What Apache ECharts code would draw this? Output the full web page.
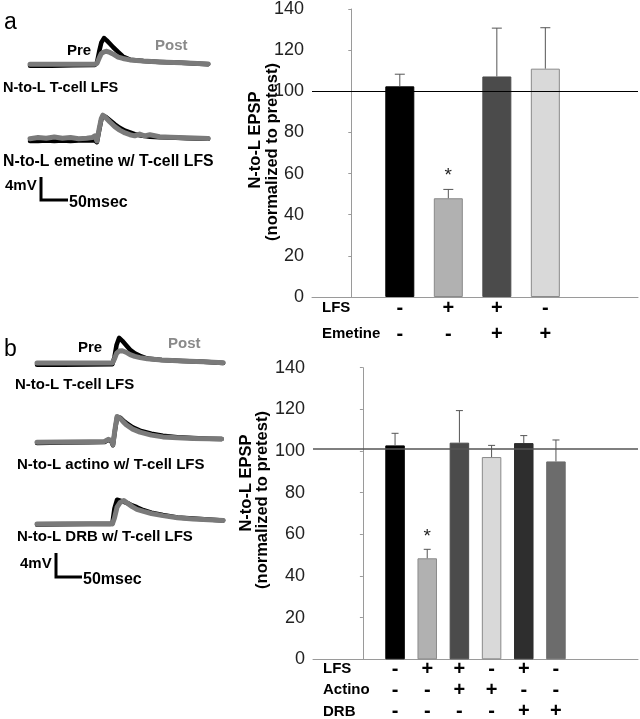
<!DOCTYPE html>
<html><head><meta charset="utf-8">
<script src="https://cdn.jsdelivr.net/npm/echarts@6/dist/echarts.min.js"></script>
<style>html,body{margin:0;padding:0;background:#fff}#c{width:640px;height:719px}</style>
</head><body><div id="c"></div>
<script>
// ---------- DATA ----------
// Panel a, trace 1 (N-to-L T-cell LFS): time (ms), voltage (mV, rel. baseline)
const a1Time = [0, 40, 80, 120, 124, 128, 132, 137, 142, 148, 154, 163, 172, 185, 210, 240, 280, 330];
const a1Pre  = [-0.2, -0.2, -0.15, -0.1, 0.3, 2.2, 3.8, 4.6, 4.2, 3.6, 3.0, 2.2, 1.4, 0.85, 0.6, 0.45, 0.3, 0.05];
const a1Post = [0.05, 0.05, 0.05, 0.05, 0.2, 1.1, 1.9, 2.2, 2.3, 2.1, 1.8, 1.3, 1.05, 0.8, 0.6, 0.45, 0.3, 0.1];
// Panel a, trace 2 (emetine)
const a2Time = [0, 15, 30, 45, 60, 75, 90, 105, 115, 120, 124, 128, 132, 135, 140, 148, 157, 166, 176, 185, 194, 203, 212, 222, 240, 260, 290, 330];
const a2Pre  = [-0.3, -0.3, -0.2, -0.3, -0.2, -0.3, -0.2, -0.2, -0.2, -0.2, -0.5, 1.5, 3.4, 4.1, 3.9, 3.3, 2.6, 2.0, 1.5, 1.2, 0.9, 0.7, 0.55, 0.45, 0.35, 0.3, 0.2, 0.1];
const a2Post = [0.1, 0.3, 0.2, 0.4, 0.2, 0.3, 0.1, 0.2, 0.3, 0.6, -0.3, 1.8, 3.6, 4.2, 3.8, 3.0, 2.2, 1.6, 1.1, 0.8, 0.6, 0.9, 0.6, 0.8, 0.45, 0.35, 0.25, 0.15];
// Panel b, trace 1 (T-cell LFS)
const b1Time = [0, 50, 100, 145, 149, 153, 158, 164, 171, 179, 188, 198, 212, 240, 280, 320, 358];
const b1Pre  = [-0.3, -0.3, -0.25, -0.2, 1.0, 3.0, 4.2, 3.7, 3.0, 2.2, 1.6, 1.2, 0.75, 0.5, 0.35, 0.2, 0.0];
const b1Post = [0, 0, 0, 0, 0.7, 1.6, 2.0, 2.05, 1.8, 1.4, 1.1, 0.9, 0.7, 0.5, 0.35, 0.2, 0.05];
// Panel b, trace 2 (actino)
const b2Time = [0, 50, 100, 130, 137, 143, 146, 150, 154, 160, 166, 172, 184, 198, 220, 242, 270, 300, 330, 355];
const b2Pre  = [-0.1, -0.05, 0, 0.05, 0.4, 0.2, -0.5, 2.0, 4.2, 4.1, 3.6, 3.2, 2.5, 1.95, 1.45, 1.1, 0.85, 0.7, 0.6, 0.55];
const b2Post = [0, 0.05, 0.1, 0.15, 0.5, 0.3, -0.4, 2.2, 4.3, 4.0, 3.4, 2.9, 2.2, 1.7, 1.2, 0.9, 0.75, 0.65, 0.6, 0.55];
// Panel b, trace 3 (DRB)
const b3Time = [0, 50, 100, 140, 145, 149, 154, 160, 167, 175, 183, 192, 205, 220, 242, 270, 300, 330, 358];
const b3Pre  = [-0.1, -0.05, 0, 0, 0.1, 2.6, 4.05, 3.9, 3.7, 3.45, 3.1, 2.8, 2.3, 1.9, 1.5, 1.1, 0.9, 0.75, 0.6];
const b3Post = [0, 0.05, 0.05, 0.05, 0.0, 1.0, 2.8, 3.6, 3.9, 3.4, 2.9, 2.45, 2.1, 1.75, 1.4, 1.05, 0.85, 0.7, 0.6];
// Scale bars
const scaleMs = 50, scaleMv = 4;

// Bar chart a
const groupsA = [1, 2, 3, 4];
const meansA  = [102.4, 48.0, 107.2, 111.0];
const semA    = [5.9, 4.3, 23.5, 19.9];
const starA   = [2, 59];
const refA    = 100;
const lfsA     = ['-', '+', '+', '-'];
const emetineA = ['-', '-', '+', '+'];
// Bar chart b
const groupsB = [1, 2, 3, 4, 5, 6];
const meansB  = [102.7, 48.5, 104.0, 97.1, 103.8, 95.0];
const semB    = [5.8, 4.3, 15.4, 5.6, 3.6, 10.3];
const starB   = [2, 59];
const refB    = 101;
const lfsB    = ['-', '+', '+', '-', '+', '-'];
const actinoB = ['-', '-', '+', '+', '-', '-'];
const drbB    = ['-', '-', '-', '-', '+', '+'];
const yTicks  = [0, 20, 40, 60, 80, 100, 120, 140];

// ---------- STYLES ----------
const FONT = '"Liberation Sans", Arial, sans-serif';
const barColorsA = ['#000000', '#b1b1b1', '#4b4b4b', '#d9d9d9'];
const barColorsB = ['#000000', '#b1b1b1', '#4b4b4b', '#d9d9d9', '#2e2e2e', '#6c6c6c'];
const lightBars = { '#b1b1b1': 1, '#d9d9d9': 1 };
const PRE = '#000000', POST = '#7a7a7a';

const chart = echarts.init(document.getElementById('c'), null, { renderer: 'canvas' });
const grid = [], xAxis = [], yAxis = [], series = [];

function addTraceGrid(left, base, pxMs, pxMv, tMax) {
  const idx = grid.length;
  grid.push({ left: left, top: base - 6 * pxMv, width: tMax * pxMs, height: 7 * pxMv });
  xAxis.push({ type: 'value', gridIndex: idx, min: 0, max: tMax, show: false });
  yAxis.push({ type: 'value', gridIndex: idx, min: -1, max: 6, show: false });
  return idx;
}
function zip(t, v) { return t.map((x, i) => [x, v[i]]); }
function addTrace(gi, t, pre, post) {
  series.push({ type: 'line', xAxisIndex: gi, yAxisIndex: gi, data: zip(t, pre), showSymbol: false, symbol: 'none',
    lineStyle: { color: PRE, width: 4.5, cap: 'round', join: 'round' }, z: 2, silent: true });
  series.push({ type: 'line', xAxisIndex: gi, yAxisIndex: gi, data: zip(t, post), showSymbol: false, symbol: 'none',
    lineStyle: { color: POST, width: 5, cap: 'round', join: 'round' }, z: 3, silent: true });
}
function addScale(gi) {
  series.push({ type: 'line', xAxisIndex: gi, yAxisIndex: gi, data: [[0, scaleMv], [0, 0], [scaleMs, 0]],
    showSymbol: false, symbol: 'none', lineStyle: { color: '#000', width: 3, join: 'miter' }, silent: true });
}

// Traces panel a
addTrace(addTraceGrid(30, 64.5, 0.54, 5.75, 330), a1Time, a1Pre, a1Post);
addTrace(addTraceGrid(30, 139.3, 0.54, 5.75, 330), a2Time, a2Pre, a2Post);
addScale(addTraceGrid(41, 200, 0.54, 5.75, 330));
// Traces panel b
addTrace(addTraceGrid(37, 363, 0.52, 6, 358), b1Time, b1Pre, b1Post);
addTrace(addTraceGrid(37, 442.3, 0.52, 6, 358), b2Time, b2Pre, b2Post);
addTrace(addTraceGrid(37, 524, 0.52, 6, 358), b3Time, b3Pre, b3Post);
addScale(addTraceGrid(56, 577, 0.52, 6, 358));

function errRender(cap, color) {
  return function (params, api) {
    const x = api.value(0), m = api.value(1), e = api.value(2);
    const p0 = api.coord([x, m]), p1 = api.coord([x, m + e]);
    const st = { stroke: color, lineWidth: 1 };
    return { type: 'group', children: [
      { type: 'line', shape: { x1: p0[0], y1: p0[1], x2: p1[0], y2: p1[1] }, style: st },
      { type: 'line', shape: { x1: p1[0] - cap / 2, y1: p1[1], x2: p1[0] + cap / 2, y2: p1[1] }, style: st }
    ] };
  };
}

function addBarPanel(opt) {
  const gi = grid.length;
  grid.push({ left: opt.left, top: opt.top, width: opt.width, height: opt.height });
  xAxis.push({ type: 'value', gridIndex: gi, min: opt.xmin, max: opt.xmax,
    axisLine: { show: true, onZero: false, lineStyle: { color: '#9a9a9a', width: 1 } },
    axisTick: { show: false }, axisLabel: { show: false }, splitLine: { show: false } });
  yAxis.push({ type: 'value', gridIndex: gi, min: 0, max: 140, interval: 20,
    axisLine: { show: true, lineStyle: { color: '#9a9a9a', width: 1 } },
    axisTick: { show: true, length: 3, lineStyle: { color: '#9a9a9a' } },
    axisLabel: { fontFamily: FONT, fontSize: 18, color: '#222', margin: 8,
      formatter: v => (yTicks.indexOf(v) >= 0 ? String(v) : '') },
    splitLine: { show: false } });
  series.push({ type: 'bar', xAxisIndex: gi, yAxisIndex: gi, barWidth: opt.barWidth, z: 2, silent: true,
    data: opt.groups.map((g, i) => ({ value: [g, opt.means[i]],
      itemStyle: { color: opt.colors[i], borderColor: lightBars[opt.colors[i]] ? '#8a8a8a' : opt.colors[i], borderWidth: 1 } })),
    markLine: { symbol: 'none', silent: true, label: { show: false },
      lineStyle: { color: opt.refColor, width: opt.refWidth, type: 'solid' }, data: [{ yAxis: opt.ref }] } });
  series.push({ type: 'custom', xAxisIndex: gi, yAxisIndex: gi, z: 3, silent: true,
    renderItem: errRender(opt.cap, '#555'), encode: { x: 0, y: [1, 2] },
    data: opt.groups.map((g, i) => [g, opt.means[i], opt.sem[i]]) });
  series.push({ type: 'custom', xAxisIndex: gi, yAxisIndex: gi, z: 3, silent: true,
    renderItem: function (params, api) {
      const p = api.coord([api.value(0), api.value(1)]);
      return { type: 'text', x: p[0], y: p[1], style: { text: '*', font: '19px ' + FONT, fill: '#222', align: 'center', verticalAlign: 'middle' } };
    }, data: [opt.star] });

  // sign rows (category rows placed on the grid edges: first row at top, last at bottom)
  const si = grid.length;
  grid.push({ left: opt.left, top: opt.signTop, width: opt.width, height: opt.signRowH * (opt.rows.length - 1) });
  xAxis.push({ type: 'value', gridIndex: si, min: opt.xmin, max: opt.xmax, show: false });
  yAxis.push({ type: 'category', gridIndex: si, inverse: true, boundaryGap: false, data: opt.rowNames,
    axisLine: { show: false }, axisTick: { show: false }, splitLine: { show: false },
    axisLabel: { inside: true, interval: 0, hideOverlap: false, align: 'left', margin: 10, fontFamily: FONT, fontWeight: 'bold', fontSize: 15, color: '#000' } });
  const signData = [], signText = [];
  opt.rows.forEach((row, r) => row.forEach((s, i) => { signData.push([opt.groups[i], r]); signText.push(s); }));
  series.push({ type: 'custom', xAxisIndex: si, yAxisIndex: si, silent: true,
    renderItem: function (params, api) {
      const p = api.coord([api.value(0), api.value(1)]);
      return { type: 'text', x: p[0], y: p[1], style: { text: signText[params.dataIndex], font: 'bold 20px ' + FONT, fill: '#000', align: 'center', verticalAlign: 'middle' } };
    }, data: signData });
}

addBarPanel({ left: 312, top: 5, width: 326, height: 292, xmin: -0.81, xmax: 5.91, barWidth: 29, cap: 10,
  groups: groupsA, means: meansA, sem: semA, star: starA, colors: barColorsA, ref: refA, refColor: '#000', refWidth: 1.2,
  signTop: 308, signRowH: 26, rows: [lfsA, emetineA], rowNames: ['LFS', 'Emetine'] });
addBarPanel({ left: 313, top: 367.7, width: 325, height: 291.6, xmin: -1.55, xmax: 8.55, barWidth: 19.5, cap: 7,
  groups: groupsB, means: meansB, sem: semB, star: starB, colors: barColorsB, ref: refB, refColor: '#555', refWidth: 1.5,
  signTop: 669, signRowH: 22, rows: [lfsB, actinoB, drbB], rowNames: ['LFS', 'Actino', 'DRB'] });

function txt(text, x, y, opts, extra) {
  return Object.assign({ type: 'text', x: x, y: y, silent: true,
    style: Object.assign({ text: text, font: 'bold 15px ' + FONT, fill: '#000', align: 'left', verticalAlign: 'middle' }, opts || {}) }, extra || {});
}
const ROT = { rotation: Math.PI / 2 };
const TITLE = { font: 'bold 16.5px ' + FONT, align: 'center' };
const graphic = [
  txt('a', 4, 23, { font: '23px ' + FONT }),
  txt('b', 4, 350, { font: '23px ' + FONT }),
  txt('Pre', 67, 51),
  txt('Post', 155, 46, { fill: '#8a8a8a' }),
  txt('N-to-L T-cell LFS', 3, 88, { font: 'bold 14.5px ' + FONT }),
  txt('N-to-L emetine w/ T-cell LFS', 3, 162, { font: 'bold 15.8px ' + FONT }),
  txt('4mV', 5, 186),
  txt('50msec', 69, 203, { font: 'bold 16px ' + FONT }),
  txt('Pre', 78, 348),
  txt('Post', 168, 344, { fill: '#8a8a8a' }),
  txt('N-to-L T-cell LFS', 15, 385),
  txt('N-to-L actino w/ T-cell LFS', 17, 465),
  txt('N-to-L DRB w/ T-cell LFS', 17, 537),
  txt('4mV', 20, 564),
  txt('50msec', 83, 580, { font: 'bold 16px ' + FONT }),
  txt('N-to-L EPSP', 255, 140, TITLE, ROT),
  txt('(normalized to pretest)', 272, 152, TITLE, ROT),
  txt('N-to-L EPSP', 246, 483, TITLE, ROT),
  txt('(normalized to pretest)', 262, 500, TITLE, ROT)
];

chart.setOption({ animation: false, backgroundColor: '#fff', grid, xAxis, yAxis, series, graphic });
</script></body></html>
